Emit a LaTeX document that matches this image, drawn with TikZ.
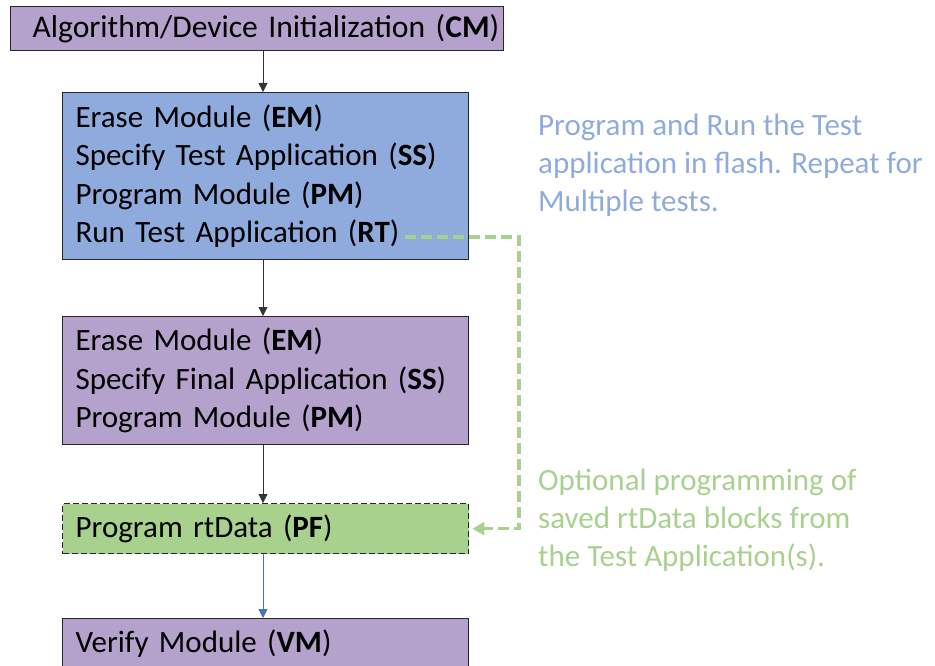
\documentclass[tikz,border=0pt]{standalone}
\usepackage{fontspec}
\setmainfont{Carlito}
\usetikzlibrary{arrows.meta, positioning}

\definecolor{boxpurple}{RGB}{180,162,204}
\definecolor{boxblue}{RGB}{143,170,220}
\definecolor{boxgreen}{RGB}{169,209,142}
\definecolor{noteblue}{RGB}{143,170,220}
\definecolor{notegreen}{RGB}{169,209,142}
\definecolor{flowblue}{RGB}{68,114,196}

\begin{document}
\begin{tikzpicture}[
  x=1pt, y=-1pt,
  box/.style={rectangle, draw=black!85, line width=1.1pt, anchor=north west,
             align=left, inner xsep=13pt, inner ysep=0pt, text width=380pt,
             font=\fontsize{31}{38.3}\selectfont},
  cmbox/.style={box, fill=boxpurple, inner xsep=22pt, text width=449pt, minimum height=44pt,
             font=\fontsize{31.6}{38.3}\selectfont},
  testbox/.style={box, fill=boxblue, minimum height=167pt},
  finalbox/.style={box, fill=boxpurple, minimum height=128pt},
  optbox/.style={box, fill=boxgreen, line width=1.4pt, dash pattern=on 6pt off 3pt, minimum height=50pt},
  vmbox/.style={box, fill=boxpurple, minimum height=50pt},
  note/.style={anchor=north west, align=left, inner sep=0pt,
             font=\fontsize{31}{38}\selectfont},
  arrow/.style={-{Triangle[length=9pt, width=9pt]}, line width=0.8pt, color=black!80},
  optarrow/.style={-{Triangle[length=12pt, width=13pt]}, line width=3.3pt,
             color=notegreen, dash pattern=on 11pt off 5pt, shorten >=3pt}
]
\useasboundingbox (0,0) rectangle (935,666);

\node[cmbox] (init) at (10,6) {\mbox{Algorithm/Device Initialization (\textbf{CM})}};
\node[testbox] (test) at (62,92) {%
  Erase Module (\textbf{EM})\\
  Specify Test Application (\textbf{SS})\\
  Program Module (\textbf{PM})\\
  Run Test Application (\textbf{RT})};
\node[finalbox] (final) at (62,316) {%
  Erase Module (\textbf{EM})\\
  Specify Final Application (\textbf{SS})\\
  Program Module (\textbf{PM})};
\node[optbox] (rtdata) at (62,503) {Program rtData (\textbf{PF})};
\node[vmbox] (verify) at (62,618) {Verify Module (\textbf{VM})};

\node[note, text=noteblue] (testnote) at (538,114) {%
  Program and Run the Test\\
  application in flash. Repeat for\\
  Multiple tests.};
\node[note, text=notegreen] (optnote) at (538,469) {%
  Optional programming of\\
  saved rtData blocks from\\
  the Test Application(s).};

\coordinate (rtend) at (405,237);
\coordinate (bend) at (519,237);

\draw[arrow] (init.south -| 263,0) -- (test.north -| 263,0);
\draw[arrow] (test.south -| 263,0) -- (final.north -| 263,0);
\draw[arrow] (final.south -| 263,0) -- (rtdata.north -| 263,0);
\draw[arrow, color=flowblue] (rtdata.south -| 263,0) -- (verify.north -| 263,0);
\draw[optarrow] (rtend) -- (bend) |- (rtdata.east);

\end{tikzpicture}
\end{document}
